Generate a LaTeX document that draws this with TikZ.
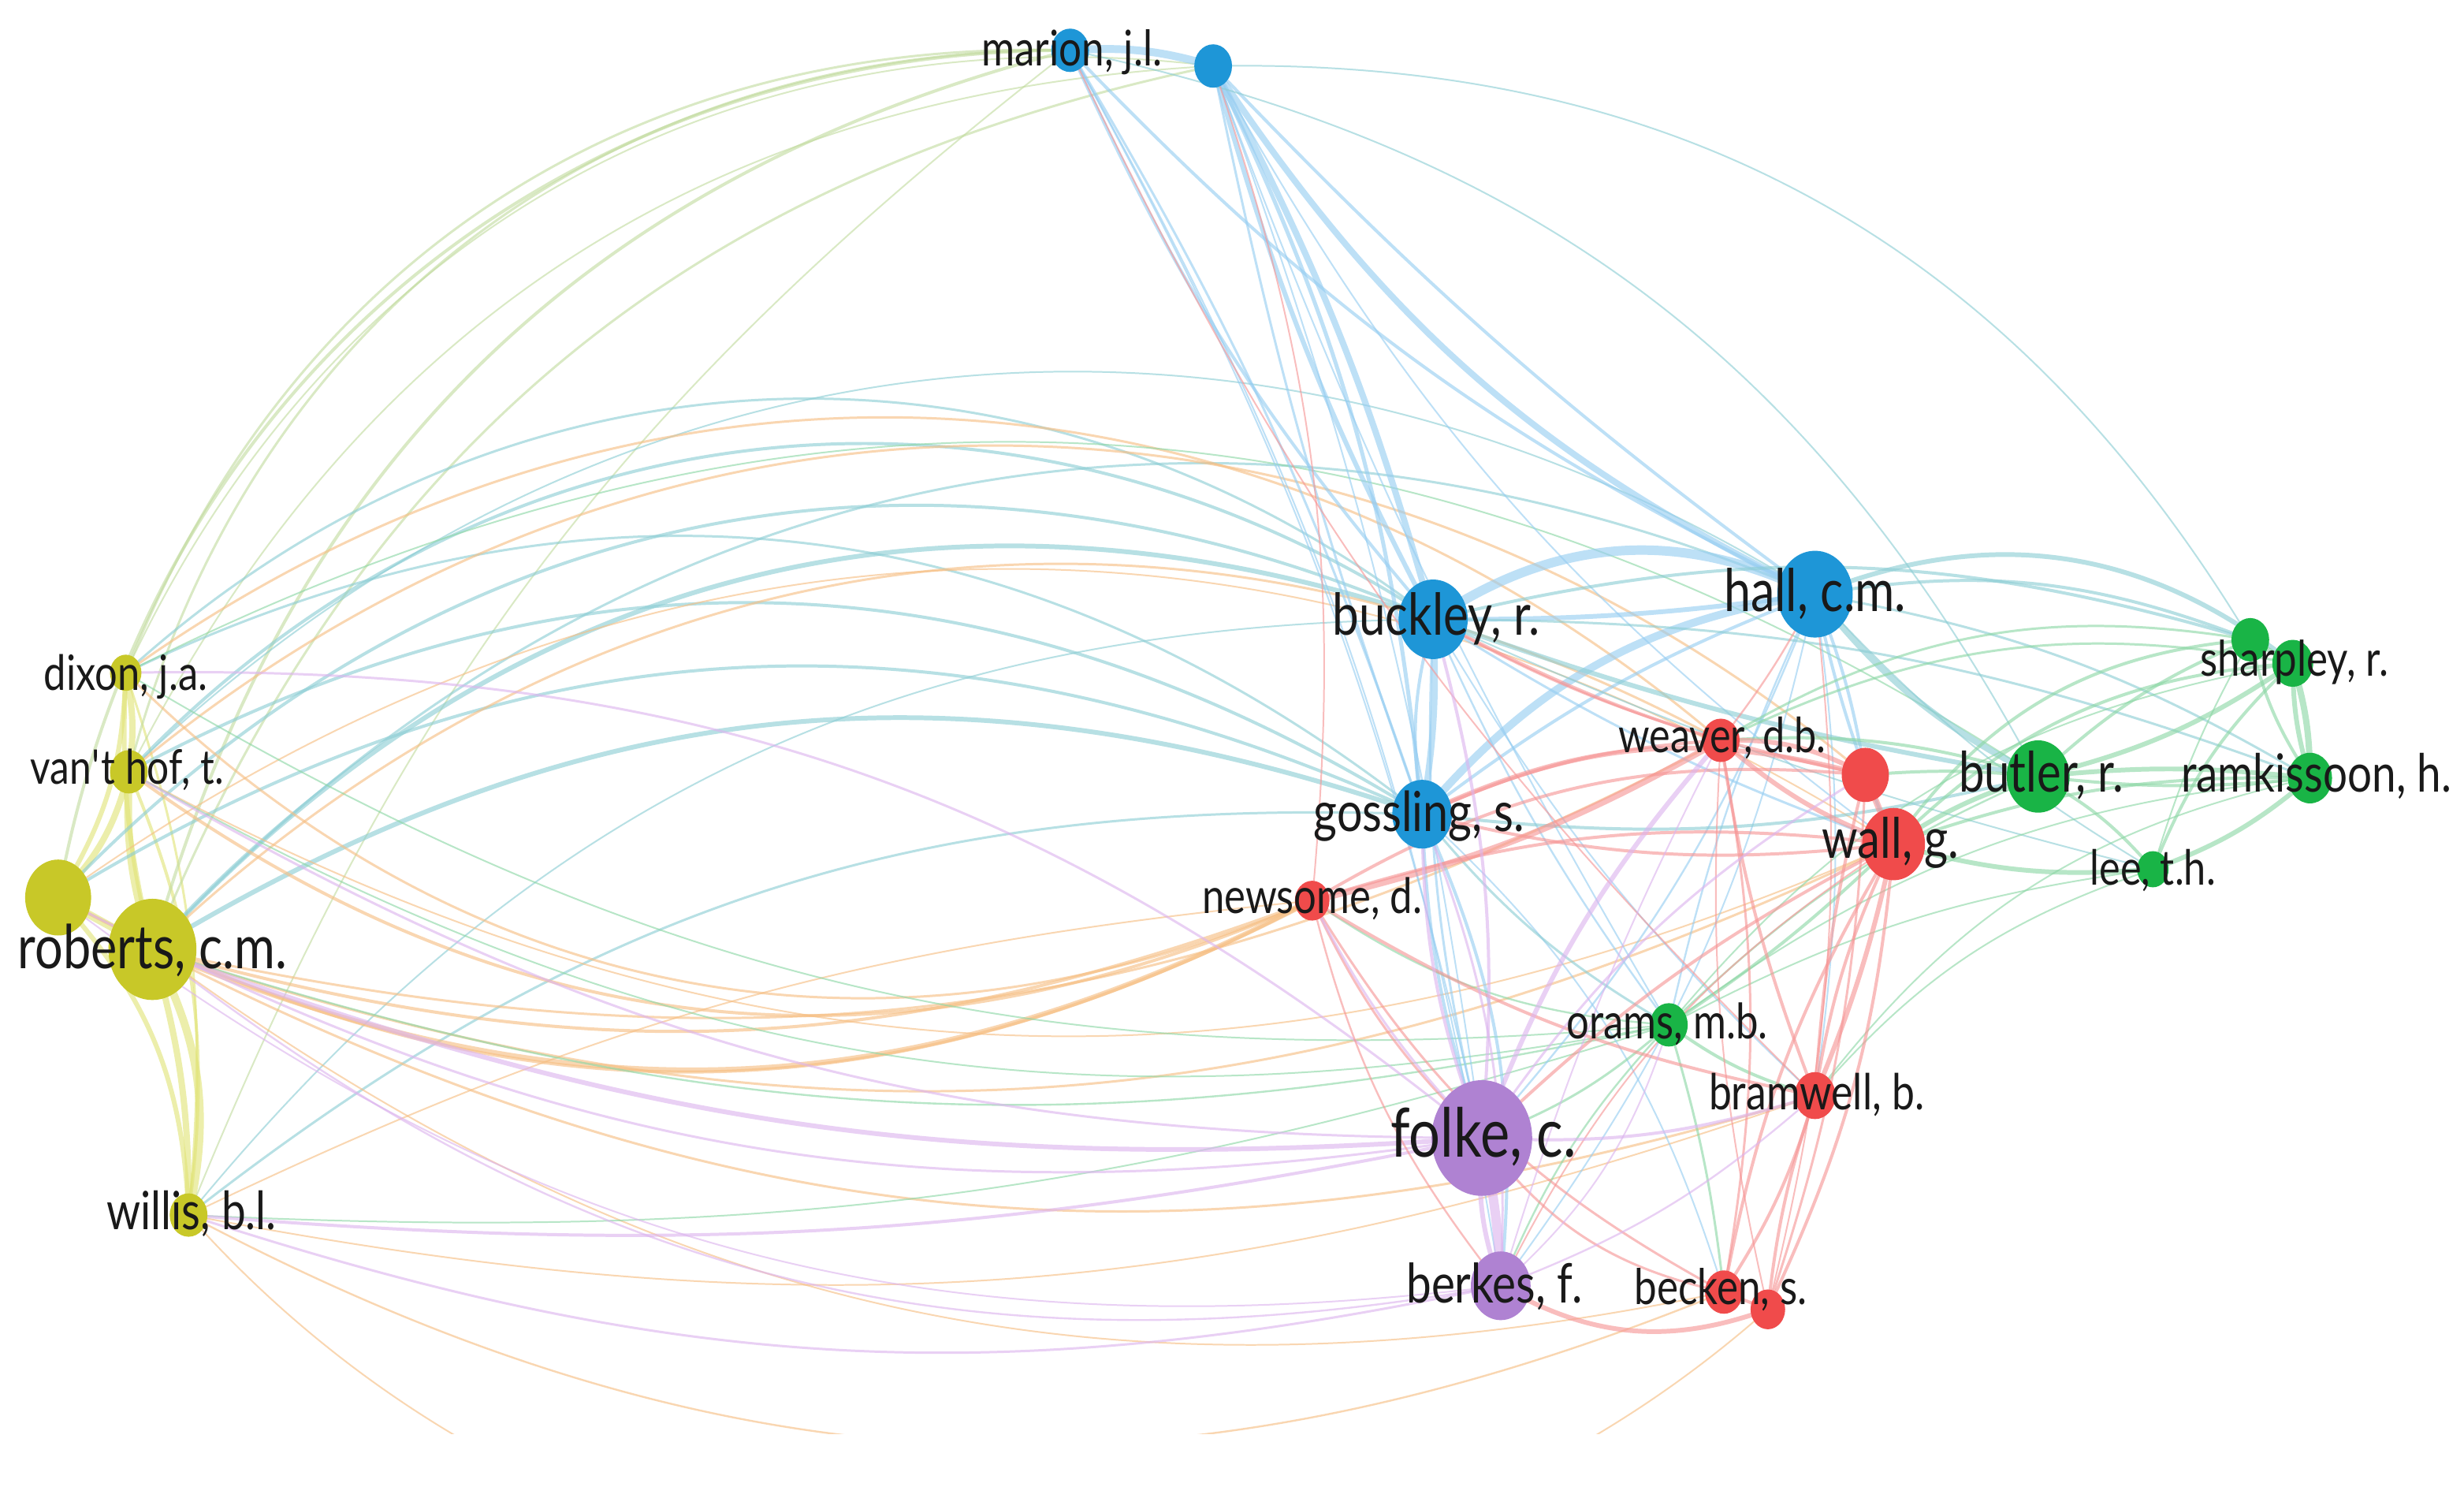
\documentclass[tikz,border=0pt]{standalone}
\usepackage{fontspec}
\usepackage{graphicx}
\newfontfamily\labfont[FakeStretch=0.82]{Lato}
\usetikzlibrary{shapes.geometric}
\pgfdeclarelayer{edges}
\pgfsetlayers{edges,main}
\setlength{\unitlength}{0.4pt}
\definecolor{nB}{RGB}{30,150,215}
\definecolor{nY}{RGB}{200,200,40}
\definecolor{nR}{RGB}{240,75,75}
\definecolor{nG}{RGB}{25,180,70}
\definecolor{nP}{RGB}{175,130,210}
\definecolor{eB}{RGB}{150,205,242}
\definecolor{eY}{RGB}{225,228,120}
\definecolor{eR}{RGB}{246,150,150}
\definecolor{eG}{RGB}{140,215,165}
\definecolor{eP}{RGB}{220,180,238}
\definecolor{eO}{RGB}{246,190,130}
\definecolor{eT}{RGB}{140,205,212}
\definecolor{eYT}{RGB}{195,220,160}
\newcommand\lbl[2]{\resizebox{#1\unitlength}{!}{#2}}
\tikzset{
  dot/.style={ellipse,inner sep=0pt,minimum width=0.8*#1 pt,minimum height=0.92*#1 pt},
  lab/.style={inner sep=0pt,anchor=base,font=\labfont,text=black!90},
  edge/.style={line width=0.4*#1 pt,opacity=.62},
}
\begin{document}
\begin{tikzpicture}[x=0.4pt,y=-0.4pt]
% nodes
\node[dot=12,fill=nB] (mar) at (681,32) {};
\node[dot=12,fill=nB] (mar2) at (772,42) {};
\node[dot=22,fill=nB] (buc) at (912,394) {};
\node[dot=24,fill=nB] (hal) at (1155,378) {};
\node[dot=19,fill=nB] (gos) at (905,518) {};
\node[dot=12,fill=nG] (sh1) at (1432,407) {};
\node[dot=13,fill=nG] (sh2) at (1459,422) {};
\node[dot=14,fill=nG] (ram) at (1470,495) {};
\node[dot=20,fill=nG] (but) at (1297,494) {};
\node[dot=10,fill=nG] (lee) at (1370,553) {};
\node[dot=12,fill=nR] (wea) at (1095,471) {};
\node[dot=15,fill=nR] (red2) at (1187,493) {};
\node[dot=20,fill=nR] (wal) at (1205,537) {};
\node[dot=11,fill=nR] (new) at (835,573) {};
\node[dot=12,fill=nG] (ora) at (1062,652) {};
\node[dot=13,fill=nR] (bra) at (1155,697) {};
\node[dot=32,fill=nP] (fol) at (943,724) {};
\node[dot=19,fill=nP] (ber) at (955,818) {};
\node[dot=12,fill=nR] (bec1) at (1097,822) {};
\node[dot=11,fill=nR] (bec2) at (1125,833) {};
\node[dot=10,fill=nY] (dix) at (80,428) {};
\node[dot=12,fill=nY] (van) at (82,491) {};
\node[dot=21,fill=nY] (yel) at (37,571) {};
\node[dot=28,fill=nY] (rob) at (97,604) {};
\node[dot=12,fill=nY] (wil) at (120,773) {};
% labels
\node[lab] (marL) at (682,42) {\lbl{115}{marion, j.l.}};
\node[lab] (bucL) at (914,404) {\lbl{132}{buckley, r.}};
\node[lab] (halL) at (1155,389) {\lbl{116}{hall, c.m.}};
\node[lab] (gosL) at (903,529) {\lbl{134}{gossling, s.}};
\node[lab] (weaL) at (1096,479) {\lbl{132}{weaver, d.b.}};
\node[lab] (butL) at (1299,504) {\lbl{105}{butler, r.}};
\node[lab] (shL) at (1460,430) {\lbl{120}{sharpley, r.}};
\node[lab] (ramL) at (1474,504) {\lbl{172}{ramkissoon, h.}};
\node[lab] (walL) at (1203,546) {\lbl{87}{wall, g.}};
\node[lab] (leeL) at (1370,563) {\lbl{80}{lee, t.h.}};
\node[lab] (newL) at (835,581) {\lbl{140}{newsome, d.}};
\node[lab] (oraL) at (1061,661) {\lbl{128}{orams, m.b.}};
\node[lab] (braL) at (1156,706) {\lbl{137}{bramwell, b.}};
\node[lab] (folL) at (944,736) {\lbl{118}{folke, c.}};
\node[lab] (berL) at (951,829) {\lbl{112}{berkes, f.}};
\node[lab] (becL) at (1095,830) {\lbl{110}{becken, s.}};
\node[lab] (dixL) at (80,439) {\lbl{104}{dixon, j.a.}};
\node[lab] (vanL) at (81,499) {\lbl{123}{van\textquotesingle t hof, t.}};
\node[lab] (robL) at (97,616) {\lbl{171}{roberts, c.m.}};
\node[lab] (wilL) at (122,782) {\lbl{108}{willis, b.l.}};
% edges
\begin{pgfonlayer}{edges}
\fill[white] (0,0) rectangle (1568,946);
\useasboundingbox (0,0) rectangle (1568,946);
\begin{scope}
\clip (0,0) rectangle (1568,912);
% yellow left internal
\foreach \p/\q/\w/\t in {dix/van/4/10,dix/yel/3/15,dix/rob/3/-8,van/yel/4/15,van/rob/5/-10,yel/rob/5/0,rob/wil/5/20,rob/wil/4/8,yel/wil/3/20,van/wil/2/15,dix/wil/1.5/12}
  \draw[eY,edge=\w] (\p.center) to[bend left=\t] (\q.center);
% left to marion
\foreach \p/\q/\w/\t in {dix/mar/1.5/35,van/mar/1.5/38,yel/mar/2/40,rob/mar/2/30,rob/mar2/1.5/28,wil/mar/1/15,van/mar2/1/30,dix/mar2/1/36}
  \draw[eYT,edge=\w] (\p.center) to[bend left=\t] (\q.center);
% left to blue
\foreach \p/\q/\w/\t in {dix/buc/1.5/40,van/buc/2/40,yel/buc/2/35,rob/buc/3/33,rob/gos/3/25,van/gos/2/30,dix/gos/1.5/32,yel/gos/2/28,rob/hal/1.5/35,van/hal/1/38,wil/buc/1/25,wil/gos/1.5/20}
  \draw[eT,edge=\w] (\p.center) to[bend left=\t] (\q.center);
% left to red (orange)
\foreach \p/\q/\w/\t in {dix/wea/1.5/38,van/red2/1.5/40,rob/wea/1.5/36,yel/wal/1/34,rob/new/3/-25,van/new/2/-30,dix/new/1.5/-34,yel/new/2/-28,rob/new/2/-18,rob/wal/1.5/-22,van/wal/1/-26,rob/bra/1.5/-22,wil/new/1/10,rob/wea/1.5/-20,wil/bec1/1.2/-25,wil/bec2/1/-45,wil/bra/1/-15,rob/bec1/1/-24}
  \draw[eO,edge=\w] (\p.center) to[bend left=\t] (\q.center);
% left to green
\foreach \p/\q/\w/\t in {rob/ora/1.2/-15,van/ora/1/-20,dix/ora/1/-18,wil/ora/1/-10,dix/but/1/30}
  \draw[eG,edge=\w] (\p.center) to[bend left=\t] (\q.center);
% left to purple
\foreach \p/\q/\w/\t in {dix/fol/1.5/20,rob/fol/3/-12,van/fol/1.5/-15,wil/fol/2/-8,wil/ber/1.5/-15,rob/ber/1.2/-24,yel/fol/1.5/-18,yel/ber/1/-22}
  \draw[eP,edge=\w] (\p.center) to[bend left=\t] (\q.center);
% blue cluster
\foreach \p/\q/\w/\t in {mar/mar2/5/10,mar/buc/2/-8,mar/gos/1.5/6,mar/hal/2/-10,mar/fol/1/8,mar/ber/1/10,mar2/buc/4/6,mar2/buc/3/-6,mar2/hal/4/-15,mar2/hal/2/-5,mar2/gos/2.5/10,mar2/gos/1.5/-4,mar2/fol/1/6,mar2/ora/1/-5,mar2/wal/1/-12,buc/hal/6/30,buc/hal/3/-4,buc/gos/4/6,buc/gos/2/-12,gos/hal/5/20,gos/hal/2/8,buc/fol/1.5/-8,buc/ora/1.2/-6,buc/bra/1/-8,buc/wal/1.5/-6,hal/fol/1.2/10,hal/ora/1.2/-6,hal/bra/1/8,hal/wal/2/-5,hal/red2/2/6,gos/ber/2/15,gos/fol/2/-8,gos/bec1/1/15,hal/ber/1/12}
  \draw[eB,edge=\w] (\p.center) to[bend left=\t] (\q.center);
% blue-green
\foreach \p/\q/\w/\t in {buc/but/3/-5,hal/but/4/-12,hal/sh2/3/30,hal/sh1/2/15,hal/ram/1.5/10,hal/lee/1/-8,buc/sh1/2/15,buc/ram/1.5/10,mar2/sh1/1/30,mar/but/1/25,gos/but/2/-10,gos/ora/1.5/-10,buc/lee/1/-5}
  \draw[eT,edge=\w] (\p.center) to[bend left=\t] (\q.center);
% green cluster
\foreach \p/\q/\w/\t in {but/sh1/2/10,but/sh2/3/-10,but/ram/3/6,but/ram/2/-6,but/lee/2/10,sh1/ram/2/-10,sh2/ram/4/8,sh2/ram/3/-8,sh1/sh2/3/0,sh2/lee/2/-12,ram/lee/3/10,sh1/lee/1/-6,wal/but/3/8,wal/sh2/2/20,wal/sh1/2/25,wal/ram/2/10,wal/lee/3/-10,red2/but/2/5,wea/but/2/10,wea/sh1/1.5/20,wea/sh2/1.5/18,ora/but/1.2/10,ora/sh2/1/20,ora/wal/2/-5,ora/lee/1/10,ora/ram/1/15,ram/bra/1/-20,lee/bra/1/-15,ora/bra/2/-10,ora/bec1/1.5/5,ora/fol/1.5/10,ora/ber/1.2/-10,ora/new/1.2/15}
  \draw[eG,edge=\w] (\p.center) to[bend left=\t] (\q.center);
% red cluster
\foreach \p/\q/\w/\t in {wea/wal/3/-10,wea/red2/3/15,red2/wal/4/0,new/wea/4/-8,gos/red2/3/20,new/red2/2/18,new/wal/2/12,gos/wea/2/10,wal/bra/3/5,wal/bra/2/-8,wal/bec1/2/-10,wal/bec2/2/10,bra/bec1/2/8,bra/bec2/2/-6,wea/bra/2/-6,wea/bec1/1.5/10,red2/bra/2/-5,red2/bec2/1.5/8,new/bra/2/-10,new/bec1/1.5/-15,fol/bec1/1.5/-20,ber/bec2/3/-25,ber/wal/1/15,fol/wal/2/8,new/fol/1.5/-10,buc/wea/1.5/-6,buc/red2/2/-8,hal/wea/1.2/5,mar2/new/1/12,mar/bra/1/-10,wea/bec2/1/-8,new/ber/1.2/-12,bec1/bec2/2/0,hal/bec2/1/10,gos/wal/2/-10}
  \draw[eR,edge=\w] (\p.center) to[bend left=\t] (\q.center);
% purple cluster
\foreach \p/\q/\w/\t in {fol/ber/6/5,fol/ber/3/-12,fol/gos/2/10,fol/buc/2/-10,fol/wea/3/10,fol/red2/1.5/12,fol/bra/2/-10,ber/bra/1.2/-10,ber/ora/1/-15,ber/gos/1.5/-12,fol/new/1.5/8,ber/wea/1/5}
  \draw[eP,edge=\w] (\p.center) to[bend left=\t] (\q.center);
\end{scope}
\end{pgfonlayer}
\end{tikzpicture}
\end{document}
